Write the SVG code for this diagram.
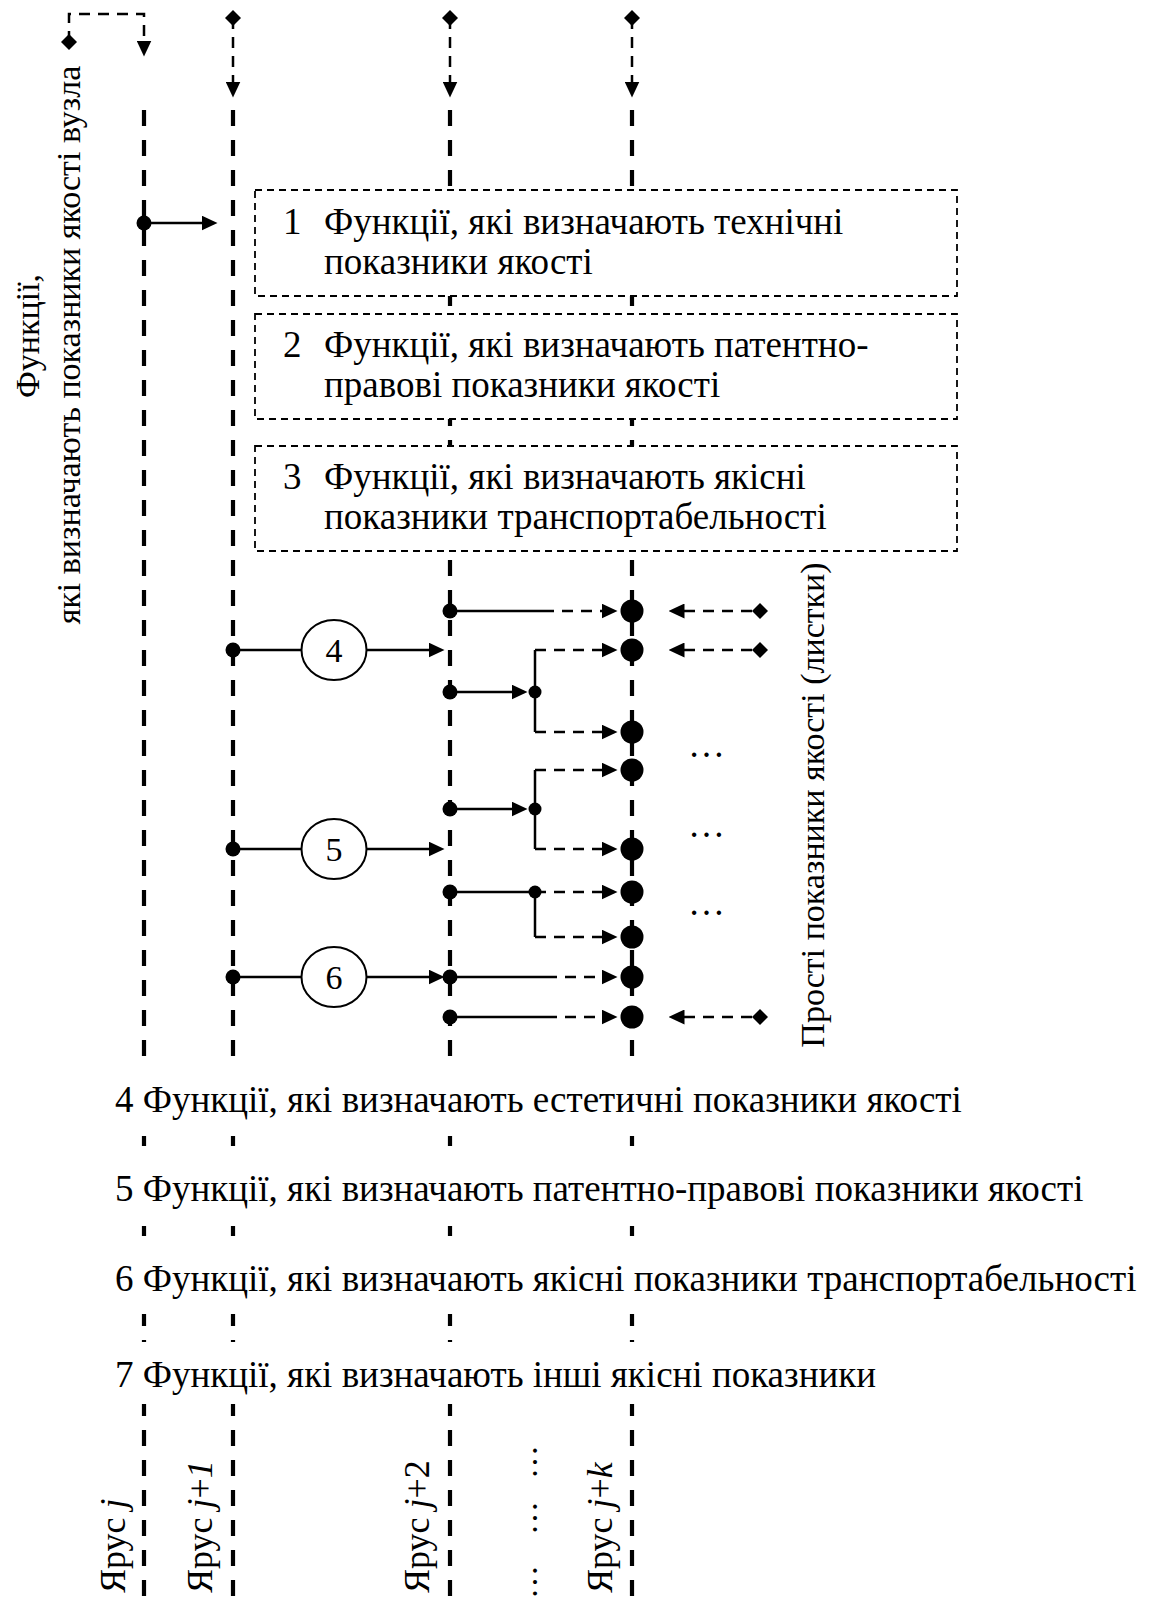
<svg xmlns="http://www.w3.org/2000/svg" width="1150" height="1598" viewBox="0 0 1150 1598">
<style>
.tier{stroke:#000;stroke-width:4.2;stroke-dasharray:16 14;fill:none}
.thin{stroke:#000;stroke-width:2.5;stroke-dasharray:11 8;fill:none}
.solid{stroke:#000;stroke-width:2.5;fill:none}
.box{fill:#fff;stroke:#000;stroke-width:1.8;stroke-dasharray:7 5}
.circ{fill:#fff;stroke:#000;stroke-width:2}
.t{font-family:"Liberation Serif","Times New Roman",serif;font-size:37px;fill:#000}
.v{font-size:34px}
.num{font-size:34px}
.lab{font-size:36px}
.it{font-style:italic}
.bg{fill:#fff}
</style>
<defs>
<marker id="ah" viewBox="0 0 16 15" refX="0.5" refY="7.5" markerWidth="16" markerHeight="15" markerUnits="userSpaceOnUse" orient="auto"><path d="M0,0 L16,7.5 L0,15 z" fill="#000"/></marker>
<path id="dia" d="M0,-8 L8,0 L0,8 L-8,0 z" fill="#000"/>
</defs>
<rect width="1150" height="1598" fill="#fff"/>

<g id="tiers">
<g id="tier-j"><line class="tier" x1="144" y1="110" x2="144" y2="1598"/></g>
<g id="tier-j1"><line class="tier" x1="233" y1="110" x2="233" y2="1598"/></g>
<g id="tier-j2"><line class="tier" x1="450" y1="110" x2="450" y2="1598"/></g>
<g id="tier-jk"><line class="tier" x1="632" y1="110" x2="632" y2="1598"/></g>
</g>

<g id="connectors">
<path class="thin" d="M69,42 V14 H144 V41" marker-end="url(#ah)"/>
<path class="thin" d="M233,18 V82" marker-end="url(#ah)"/>
<path class="thin" d="M450,18 V82" marker-end="url(#ah)"/>
<path class="thin" d="M632,18 V82" marker-end="url(#ah)"/>
<use href="#dia" x="69" y="42"/>
<use href="#dia" x="233" y="18"/>
<use href="#dia" x="450" y="18"/>
<use href="#dia" x="632" y="18"/>

<line class="solid" x1="144" y1="223" x2="202" y2="223" marker-end="url(#ah)"/>

<line class="solid" x1="233" y1="650" x2="302" y2="650"/>
<line class="solid" x1="366" y1="650" x2="429" y2="650" marker-end="url(#ah)"/>
<line class="solid" x1="233" y1="849" x2="302" y2="849"/>
<line class="solid" x1="366" y1="849" x2="429" y2="849" marker-end="url(#ah)"/>
<line class="solid" x1="233" y1="977" x2="302" y2="977"/>
<line class="solid" x1="366" y1="977" x2="429" y2="977" marker-end="url(#ah)"/>

<line class="solid" x1="450" y1="611" x2="543" y2="611"/>
<line class="thin" x1="543" y1="611" x2="602" y2="611" marker-end="url(#ah)"/>
<path class="solid" d="M535,650 V732"/>
<line class="thin" x1="535" y1="650" x2="602" y2="650" marker-end="url(#ah)"/>
<line class="solid" x1="450" y1="692" x2="512" y2="692" marker-end="url(#ah)"/>
<line class="thin" x1="535" y1="732" x2="602" y2="732" marker-end="url(#ah)"/>
<path class="solid" d="M535,770 V849"/>
<line class="thin" x1="535" y1="770" x2="602" y2="770" marker-end="url(#ah)"/>
<line class="solid" x1="450" y1="809" x2="512" y2="809" marker-end="url(#ah)"/>
<line class="thin" x1="535" y1="849" x2="602" y2="849" marker-end="url(#ah)"/>
<line class="solid" x1="450" y1="892" x2="535" y2="892"/>
<path class="solid" d="M535,892 V937"/>
<line class="thin" x1="535" y1="892" x2="602" y2="892" marker-end="url(#ah)"/>
<line class="thin" x1="535" y1="937" x2="602" y2="937" marker-end="url(#ah)"/>
<line class="solid" x1="450" y1="977" x2="546" y2="977"/>
<line class="thin" x1="546" y1="977" x2="602" y2="977" marker-end="url(#ah)"/>
<line class="solid" x1="450" y1="1017" x2="546" y2="1017"/>
<line class="thin" x1="546" y1="1017" x2="602" y2="1017" marker-end="url(#ah)"/>

<line class="thin" x1="752" y1="611" x2="684" y2="611" marker-end="url(#ah)"/>
<line class="thin" x1="752" y1="650" x2="684" y2="650" marker-end="url(#ah)"/>
<line class="thin" x1="752" y1="1017" x2="684" y2="1017" marker-end="url(#ah)"/>
<use href="#dia" x="760" y="611"/>
<use href="#dia" x="760" y="650"/>
<use href="#dia" x="760" y="1017"/>

<g fill="#000">
<circle cx="144" cy="223" r="7.5"/>
<circle cx="233" cy="650" r="7.5"/>
<circle cx="233" cy="849" r="7.5"/>
<circle cx="233" cy="977" r="7.5"/>
<circle cx="450" cy="611" r="7.5"/>
<circle cx="450" cy="692" r="7.5"/>
<circle cx="450" cy="809" r="7.5"/>
<circle cx="450" cy="892" r="7.5"/>
<circle cx="450" cy="977" r="7.5"/>
<circle cx="450" cy="1017" r="7.5"/>
<circle cx="535" cy="692" r="6.5"/>
<circle cx="535" cy="809" r="6.5"/>
<circle cx="535" cy="892" r="6.5"/>
</g>
</g>

<g id="leaves" fill="#000">
<circle cx="632" cy="611" r="11.5"/>
<circle cx="632" cy="650" r="11.5"/>
<circle cx="632" cy="732" r="11.5"/>
<circle cx="632" cy="770" r="11.5"/>
<circle cx="632" cy="849" r="11.5"/>
<circle cx="632" cy="892" r="11.5"/>
<circle cx="632" cy="937" r="11.5"/>
<circle cx="632" cy="977" r="11.5"/>
<circle cx="632" cy="1017" r="11.5"/>
</g>

<g id="box1">
<rect class="box" x="255" y="190" width="702" height="106"/>
<text class="t" x="283" y="234">1</text>
<text class="t" x="324" y="234">Функції, які визначають технічні</text>
<text class="t" x="324" y="274">показники якості</text>
</g>
<g id="box2">
<rect class="box" x="255" y="314" width="702" height="105"/>
<text class="t" x="283" y="357">2</text>
<text class="t" x="324" y="357">Функції, які визначають патентно-</text>
<text class="t" x="324" y="397">правові показники якості</text>
</g>
<g id="box3">
<rect class="box" x="255" y="446" width="702" height="105"/>
<text class="t" x="283" y="489">3</text>
<text class="t" x="324" y="489">Функції, які визначають якісні</text>
<text class="t" x="324" y="529">показники транспортабельності</text>
</g>

<g id="node4"><ellipse class="circ" cx="334" cy="650" rx="32.5" ry="30"/><text class="t num" x="334" y="662" text-anchor="middle">4</text></g>
<g id="node5"><ellipse class="circ" cx="334" cy="849" rx="32.5" ry="30"/><text class="t num" x="334" y="861" text-anchor="middle">5</text></g>
<g id="node6"><ellipse class="circ" cx="334" cy="977" rx="32.5" ry="30"/><text class="t num" x="334" y="989" text-anchor="middle">6</text></g>

<g id="ellipses">
<text class="t" x="688" y="757">…</text>
<text class="t" x="688" y="837">…</text>
<text class="t" x="688" y="915">…</text>
<text class="t v" transform="translate(537,1462) rotate(-90)" text-anchor="middle">…</text>
<text class="t v" transform="translate(537,1518) rotate(-90)" text-anchor="middle">…</text>
<text class="t v" transform="translate(537,1582) rotate(-90)" text-anchor="middle">…</text>
</g>

<g id="legend">
<rect class="bg" x="100" y="1066" width="560" height="70"/>
<rect class="bg" x="100" y="1148" width="560" height="78"/>
<rect class="bg" x="100" y="1238" width="560" height="76"/>
<rect class="bg" x="100" y="1342" width="560" height="62"/>
<text class="t" x="115" y="1112">4 Функції, які визначають естетичні показники якості</text>
<text class="t" x="115" y="1201">5 Функції, які визначають патентно-правові показники якості</text>
<text class="t" x="115" y="1291">6 Функції, які визначають якісні показники транспортабельності</text>
<text class="t" x="115" y="1387">7 Функції, які визначають інші якісні показники</text>
</g>

<g id="left-label">
<text class="t v" transform="translate(39,336) rotate(-90)" text-anchor="middle">Функції,</text>
<text class="t v" transform="translate(80,345) rotate(-90)" text-anchor="middle">які визначають показники якості вузла</text>
</g>
<g id="right-label">
<text class="t v" transform="translate(824,805) rotate(-90)" text-anchor="middle">Прості показники якості (листки)</text>
</g>

<g id="tier-labels">
<text class="t lab" transform="translate(125,1593) rotate(-90)">Ярус <tspan class="it">j</tspan></text>
<text class="t lab" transform="translate(212,1593) rotate(-90)">Ярус <tspan class="it">j</tspan>+<tspan class="it">1</tspan></text>
<text class="t lab" transform="translate(429,1593) rotate(-90)">Ярус <tspan class="it">j</tspan>+2</text>
<text class="t lab" transform="translate(612,1593) rotate(-90)">Ярус <tspan class="it">j</tspan>+<tspan class="it">k</tspan></text>
</g>
</svg>
